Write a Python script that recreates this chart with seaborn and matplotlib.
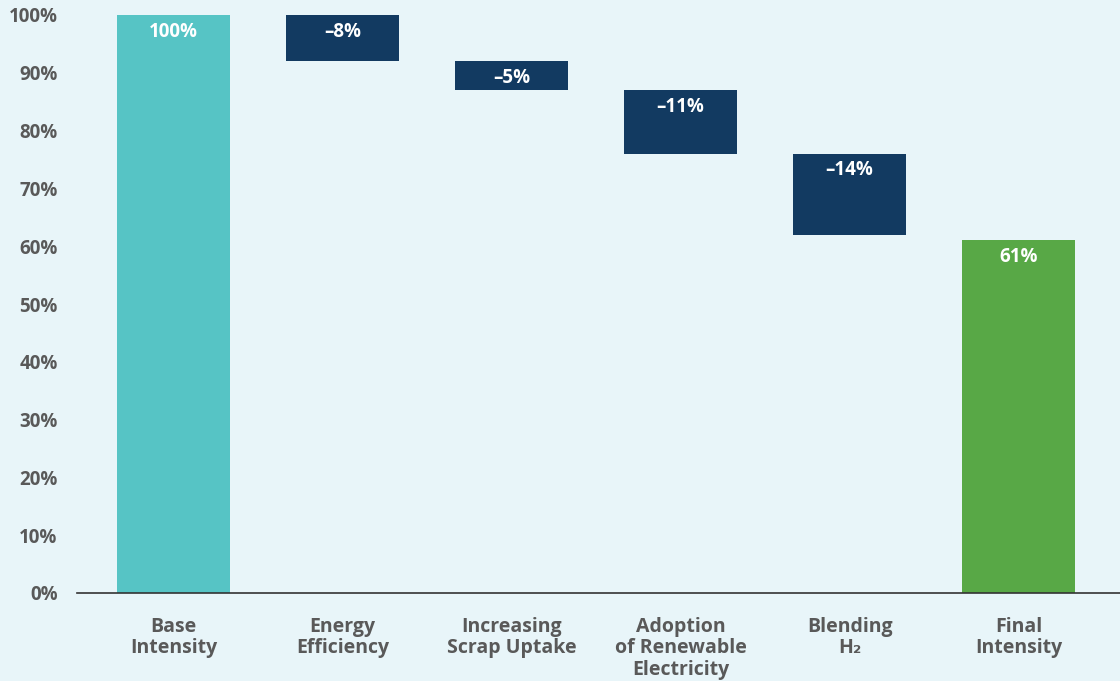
import matplotlib
matplotlib.use("Agg")
import matplotlib.pyplot as plt
import seaborn as sns
import pandas as pd

# Waterfall of emissions intensity, from base to final
categories = ["Base\nIntensity", "Energy\nEfficiency", "Increasing\nScrap Uptake",
              "Adoption\nof Renewable\nElectricity", "Blending\nH\u2082", "Final\nIntensity"]
changes = [100, -8, -5, -11, -14, 61]          # first and last are totals
labels = ["100%", "\u20138%", "\u20135%", "\u201311%", "\u201314%", "61%"]
colors = ["#56C4C5", "#123A61", "#123A61", "#123A61", "#123A61", "#58A846"]
yticks = [0, 10, 20, 30, 40, 50, 60, 70, 80, 90, 100]

# floating bar geometry: bottoms and heights
bottoms, heights = [], []
level = 0
for i, v in enumerate(changes):
    if i == 0 or i == len(changes) - 1:
        bottoms.append(0)
        heights.append(v)
        level = v
    else:
        level_new = level + v
        bottoms.append(level_new)
        heights.append(-v)
        level = level_new

df = pd.DataFrame({"cat": categories, "h": heights})

sns.set_theme(style="white")
plt.rcParams["font.family"] = ["Open Sans", "DejaVu Sans"]
bg = "#E8F5F9"
grey = "#595959"
fig = plt.figure(figsize=(11.2, 6.81), dpi=100, facecolor=bg)
ax = fig.add_axes([77 / 1120, 88 / 681, 1 - 77 / 1120, (593 - 15) / 681])
ax.set_facecolor(bg)

sns.barplot(data=df, x="cat", y="h", hue="cat", palette=colors, legend=False,
            width=0.67, saturation=1, linewidth=0, ax=ax, zorder=3)

for i, p in enumerate(ax.patches):
    p.set_y(bottoms[i])
    p.set_clip_on(False)
    top = bottoms[i] + heights[i]
    ax.text(p.get_x() + p.get_width() / 2, top - 2.9, labels[i], ha="center", va="center",
            color="white", fontsize=13.5, fontweight="bold", zorder=4)

ax.set_ylim(0, 100)
ax.set_xlim(-0.571, 5.60)
ax.set_yticks(yticks)
ax.set_yticklabels([f"{t}%" for t in yticks], fontsize=13.5, fontweight="bold", color=grey)
ax.set_xticks(range(len(categories)))
ax.set_xticklabels(categories, fontsize=14, fontweight="bold", color=grey,
                   linespacing=1.1)
ax.tick_params(axis="x", length=0, pad=17)
ax.tick_params(axis="y", length=0, pad=14)
ax.set_xlabel("")
ax.set_ylabel("")
for s in ["top", "right", "left"]:
    ax.spines[s].set_visible(False)
ax.spines["bottom"].set_color("#333333")
ax.spines["bottom"].set_linewidth(1.2)
ax.spines["bottom"].set_zorder(5)

fig.savefig("out.png", dpi=100, facecolor=bg)
